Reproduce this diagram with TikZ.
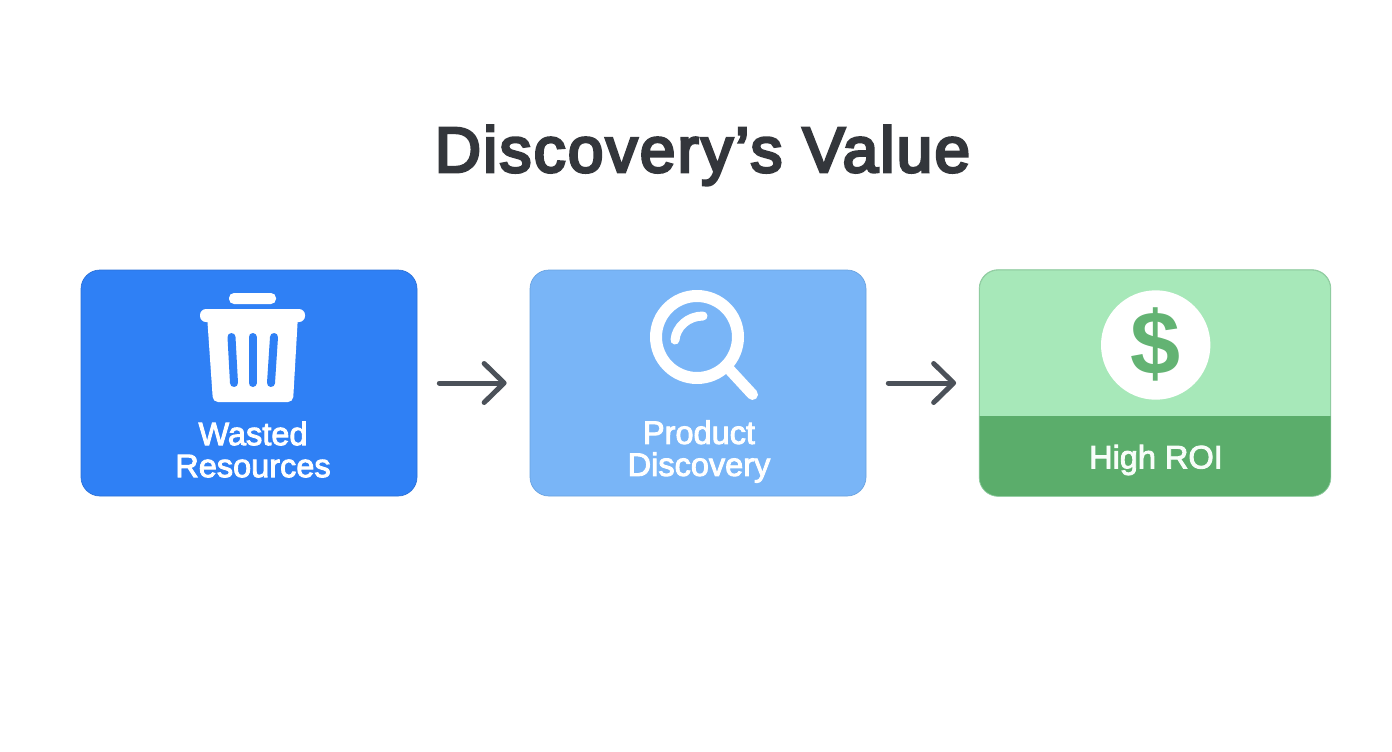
\documentclass[tikz,border=0pt]{standalone}
\usepackage{fontspec}
\setmainfont{Liberation Sans}
\newfontfamily\titlefont[LetterSpace=3.4]{Liberation Sans}
\newcommand{\strokedtext}[2]{\special{pdf:code 2 Tr #1 w}#2\special{pdf:code 0 Tr 1 w}}
\usetikzlibrary{arrows.meta,calc}
\definecolor{bluedark}{HTML}{2F80F5}
\definecolor{blueedge}{HTML}{2A70D8}
\definecolor{bluelight}{HTML}{79B5F7}
\definecolor{bluelightedge}{HTML}{68A2E0}
\definecolor{greenlight}{HTML}{A7E8B9}
\definecolor{greendark}{HTML}{5BAD6B}
\definecolor{greenedge}{HTML}{8FCCA0}
\definecolor{arrowgrey}{HTML}{4B5159}
\definecolor{titlegrey}{HTML}{33363B}
\tikzset{
  card/.style={rectangle,rounded corners=19pt,inner sep=0pt,minimum height=226pt,line width=0.7pt},
  cardlabel/.style={text=white,align=center,font=\fontsize{32.5}{32}\selectfont,inner sep=0pt},
  flow/.style={draw=arrowgrey,line width=5pt,line cap=round,-{Straight Barb[length=20pt,width=39pt,round]},shorten <=22pt,shorten >=23pt},
  icon/.style={white,line cap=round,line join=round}
}
\begin{document}
\begin{tikzpicture}[x=1pt,y=-1pt]
\useasboundingbox (0,0) rectangle (1392,752);
\fill[white] (0,0) rectangle (1392,752);
\node[font=\fontsize{64}{66}\selectfont\titlefont,text=titlegrey,anchor=base,inner sep=0pt] (title) at (702.5,172) {\strokedtext{2.8}{Discovery’s Value}};

\node[card,fill=bluedark,draw=blueedge,minimum width=336pt] (b1) at (249,383) {};
\node[card,fill=bluelight,draw=bluelightedge,minimum width=336pt] (b2) at (698,383) {};
\node[card,fill=greenlight,draw=greenedge,minimum width=351pt] (b3) at (1155,383) {};

\begin{scope}
  \clip[rounded corners=19pt] (b3.north west) rectangle (b3.south east);
  \fill[greendark] (979,416) rectangle (1332,497);
\end{scope}
\draw[greenedge,line width=0.7pt,rounded corners=19pt] (b3.north west) rectangle (b3.south east);

% trash can
\fill[white,rounded corners=5pt] (229,293) rectangle (276,304);
\fill[white,rounded corners=6pt] (200,309) rectangle (305,322);
\fill[white,rounded corners=5pt] (207,315) -- (298,315) -- (293,402) -- (213,402) -- cycle;
\draw[bluedark,line width=8pt,line cap=round] (231.5,337) -- (234,383);
\draw[bluedark,line width=8pt,line cap=round] (252.5,337) -- (252.5,383);
\draw[bluedark,line width=8pt,line cap=round] (274,337) -- (271,383);

% magnifier
\draw[icon,line width=12pt] (697,337) circle (41);
\draw[icon,line width=11pt] (728,368) -- (752.5,394.5);
\draw[icon,line width=9pt] (675,340) .. controls (676,327) and (688,316) .. (703,316);

% dollar
\fill[white] (1155.7,345) circle (54.7);
\node[font=\fontsize{90}{90}\selectfont\bfseries,text=greendark!90!greenlight,inner sep=0pt] (dollar) at (1155.7,344) {\$};

\node[cardlabel] (t1) at (253,449.5) {\strokedtext{0.9}{Wasted}\\\strokedtext{0.9}{Resources}};
\node[cardlabel] (t2) at (699,451.5) {\strokedtext{0.9}{Product}\\\strokedtext{0.9}{Discovery}};
\node[cardlabel,text=white!92!greenlight] (t3) at (1156,460) {\strokedtext{0.9}{High ROI}};

\draw[flow] (b1.east) -- (b2.west);
\draw[flow] (b2.east) -- (b3.west);
\end{tikzpicture}
\end{document}
